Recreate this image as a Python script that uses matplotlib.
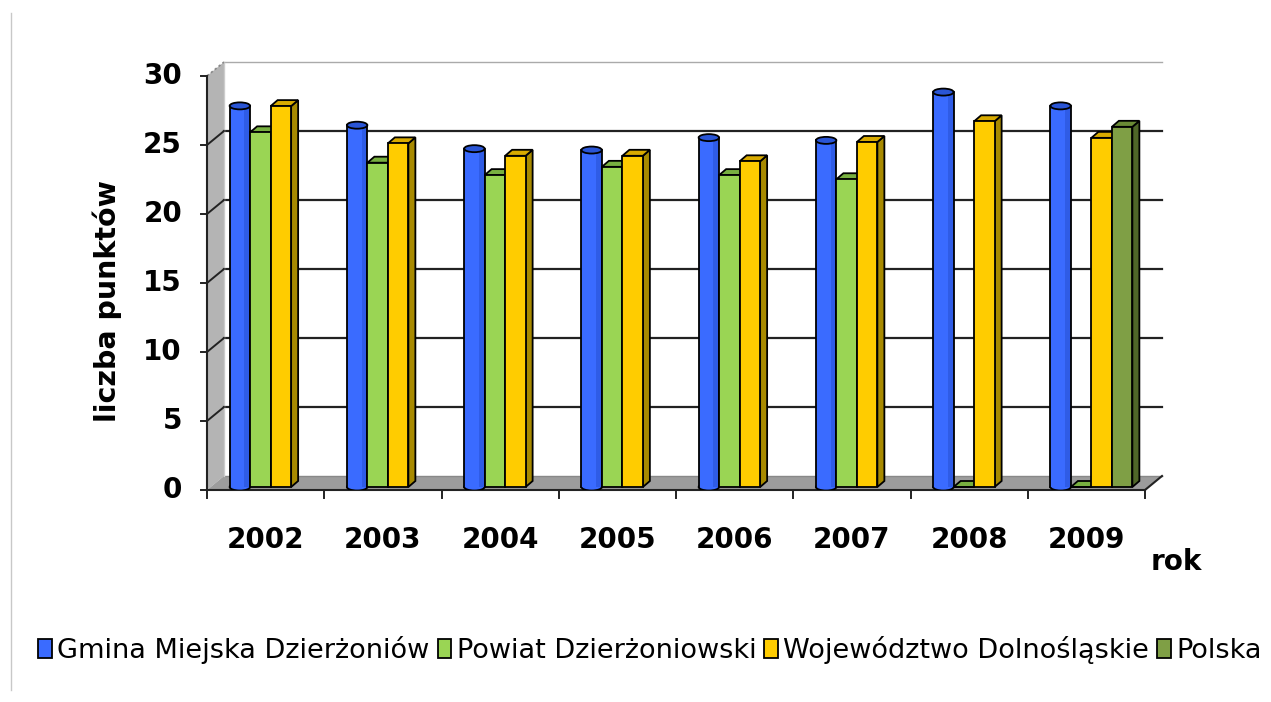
import matplotlib
matplotlib.use('Agg')
import matplotlib.pyplot as plt
import numpy as np
from matplotlib.patches import Polygon, Ellipse, Rectangle
from matplotlib.lines import Line2D

# ---------------- data ----------------
years = ['2002', '2003', '2004', '2005', '2006', '2007', '2008', '2009']
gmina = [27.4, 26.0, 24.3, 24.2, 25.1, 24.9, 28.4, 27.4]
powiat = [25.7, 23.5, 22.6, 23.2, 22.6, 22.3, 0.0, 0.0]
wojewodztwo = [27.6, 24.9, 24.0, 24.0, 23.6, 25.0, 26.5, 25.3]
polska = [np.nan, np.nan, np.nan, np.nan, np.nan, np.nan, np.nan, 26.1]
series_names = ['Gmina Miejska Dzierżoniów', 'Powiat Dzierżoniowski',
                'Województwo Dolnośląskie', 'Polska']
yticks = [0, 5, 10, 15, 20, 25, 30]
ylabel = 'liczba punktów'
xlabel = 'rok'

# ---------------- styles ----------------
front_cols = ['#3A6BFF', '#9AD554', '#FFCC00', '#7F9F45']
top_cols = ['#2A55D5', '#78B040', '#D8AA00', '#6A8A35']
side_cols = ['#2A55D5', '#6E9A38', '#A88A00', '#4F6628']

W, H = 1271, 702
fig = plt.figure(figsize=(W / 100, H / 100), dpi=100)
fig.patch.set_facecolor('white')

ax_l, ax_r, ax_t, ax_b = 207, 1145, 76, 490
ax = fig.add_axes([ax_l / W, 1 - ax_b / H, (ax_r - ax_l) / W, (ax_b - ax_t) / H])
ax.set_xlim(-0.5, len(years) - 0.5)
ax.set_ylim(0, 30)
ax.axis('off')

DX = len(years) / (ax_r - ax_l)   # data per px (x)
DY = 30 / (ax_b - ax_t)           # data per px (y)

# depth of the 3D box (floor / wall offset)
odx, ody = 17 * DX, 14 * DY
x_left, x_right = -0.5, len(years) - 0.5

# left side wall
ax.add_patch(Polygon([(x_left, 0), (x_left, 30), (x_left + odx, 30 + ody), (x_left + odx, ody)],
                     closed=True, facecolor='#B4B4B4', edgecolor='none', zorder=1, clip_on=False))
# floor
ax.add_patch(Polygon([(x_left, 0), (x_right, 0), (x_right + odx, ody), (x_left + odx, ody)],
                     closed=True, facecolor='#9C9C9C', edgecolor='none', zorder=1, clip_on=False))
ax.add_line(Line2D([x_right, x_right + odx], [0, ody], color='#222222', lw=1.5, zorder=2, clip_on=False))
ax.add_line(Line2D([x_left + odx, x_right + odx], [ody, ody], color='#888888', lw=1.0, zorder=1.5, clip_on=False))

# back wall gridlines and diagonals
for t in yticks[1:]:
    if t == 30:
        ax.add_line(Line2D([x_left + odx, x_right + odx], [t + ody, t + ody], color='#AAAAAA',
                           lw=1.0, zorder=1.5, clip_on=False))
        ax.add_line(Line2D([x_left, x_left + odx], [t, t + ody], color='#888888', lw=1.2,
                           ls=(0, (1.5, 1.5)), zorder=2, clip_on=False))
    else:
        ax.add_line(Line2D([x_left + odx, x_right + odx], [t + ody, t + ody], color='#222222',
                           lw=1.6, zorder=1.5, clip_on=False))
        ax.add_line(Line2D([x_left, x_left + odx], [t, t + ody], color='#222222', lw=1.4,
                           zorder=2, clip_on=False))
ax.add_line(Line2D([x_left + odx, x_left + odx], [ody, 30 + ody], color='#CCCCCC', lw=1.0,
                   zorder=1.5, clip_on=False))

# front axes
ax.add_line(Line2D([x_left, x_left], [0, 30], color='#222222', lw=1.5, zorder=2, clip_on=False))
ax.add_line(Line2D([x_left, x_right], [0, 0], color='#222222', lw=1.5, zorder=2, clip_on=False))
for t in yticks:
    ax.add_line(Line2D([x_left - 6 * DX, x_left], [t, t], color='#222222', lw=1.4, zorder=2, clip_on=False))
    ax.text(x_left - 25 * DX, t, str(t), ha='right', va='center', fontsize=20,
            fontweight='bold', color='black')
for k in range(len(years) + 1):
    xb = x_left + k
    ax.add_line(Line2D([xb, xb], [0, -8 * DY], color='#222222', lw=1.4, zorder=2, clip_on=False))
for k, yr in enumerate(years):
    ax.text(k, -50 * DY, yr, ha='center', va='center', fontsize=20, fontweight='bold')

# ---------------- bars ----------------
series = [gmina, powiat, wojewodztwo, polska]
w = 20.5 * DX
shift = 5 * DX
b0 = 3 * DY
bdx, bdy = 7 * DX, 6 * DY
offsets = [(-1.5 + s) * w + shift for s in range(4)]
ell_h = 7 * DY

for s, vals in enumerate(series):
    vals_arr = np.array(vals, dtype=float)
    xs = np.arange(len(years)) + offsets[s]
    mask = ~np.isnan(vals_arr)
    z = 5 + s
    if s == 0:
        bars = ax.bar(xs[mask], vals_arr[mask], width=w, bottom=b0, color=front_cols[s],
                      edgecolor='none', zorder=z)
        for x, v in zip(xs[mask], vals_arr[mask]):
            top = b0 + v + 3 * DY
            ax.add_patch(Rectangle((x - w / 2, b0), w, v + 3 * DY, facecolor=front_cols[s],
                                   edgecolor='none', zorder=z))
            ax.add_patch(Rectangle((x + w * 0.22, b0), w * 0.28, v + 3 * DY, facecolor='#2F5CE6',
                                   edgecolor='none', zorder=z + 0.01))
            ax.add_patch(Ellipse((x, b0), w, ell_h, facecolor=front_cols[s], edgecolor='black',
                                 lw=1.3, zorder=z - 0.05))
            ax.add_line(Line2D([x - w / 2, x - w / 2], [b0, top], color='black', lw=1.3, zorder=z + 0.02))
            ax.add_line(Line2D([x + w / 2, x + w / 2], [b0, top], color='black', lw=1.3, zorder=z + 0.02))
            ax.add_patch(Ellipse((x, top), w, ell_h, facecolor=top_cols[s], edgecolor='black',
                                 lw=1.3, zorder=z + 0.03))
    else:
        bars = ax.bar(xs[mask], vals_arr[mask], width=w, bottom=b0, color=front_cols[s],
                      edgecolor='black', linewidth=1.3, zorder=z + 0.02)
        for x, v in zip(xs[mask], vals_arr[mask]):
            x0, x1 = x - w / 2, x + w / 2
            top = b0 + v
            ax.add_patch(Polygon([(x1, b0), (x1, top), (x1 + bdx, top + bdy), (x1 + bdx, b0 + bdy)],
                                 closed=True, facecolor=side_cols[s], edgecolor='black', lw=1.3,
                                 zorder=z))
            ax.add_patch(Polygon([(x0, top), (x1, top), (x1 + bdx, top + bdy), (x0 + bdx, top + bdy)],
                                 closed=True, facecolor=top_cols[s], edgecolor='black', lw=1.3,
                                 zorder=z + 0.01))

# ---------------- labels ----------------
fig.text(107 / W, 1 - 301 / H, ylabel, rotation=90, ha='center', va='center',
         fontsize=20.5, fontweight='bold')
fig.text(1176 / W, 1 - 562 / H, xlabel, ha='center', va='center', fontsize=20, fontweight='bold')

handles = [Rectangle((0, 0), 1, 1, facecolor=c, edgecolor='black', lw=1.3) for c in front_cols]
fig.legend(handles, series_names, loc='center', bbox_to_anchor=(650 / W, 1 - 650 / H), ncol=4,
           frameon=False, fontsize=19.5, handlelength=0.5, handleheight=0.75, handletextpad=0.2,
           columnspacing=0.3, borderaxespad=0)

fig.add_artist(Line2D([11 / W, 11 / W], [1 - 13 / H, 1 - 690 / H], color='#C8C8C8', lw=1.0))

fig.savefig('out.png', dpi=100, facecolor='white')
